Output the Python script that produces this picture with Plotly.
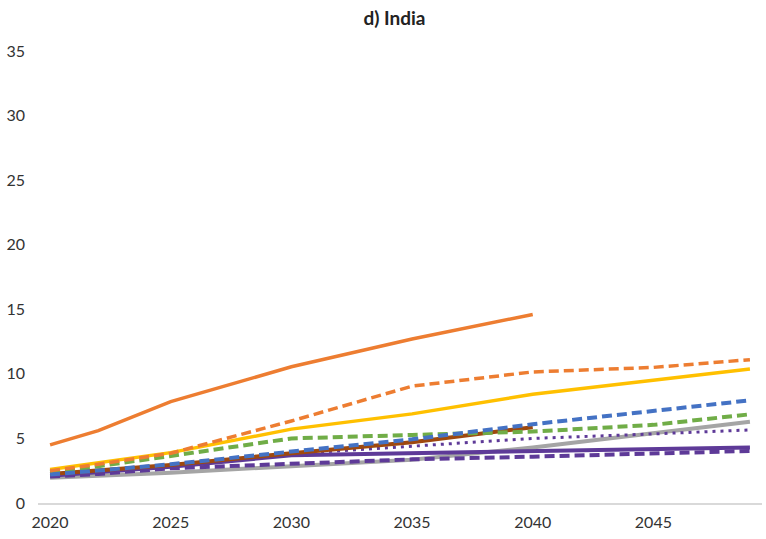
import plotly.graph_objects as go

# Years at which each scenario path is tabulated
years = [2020, 2022, 2025, 2030, 2035, 2040, 2045, 2049]

# Scenario values (same order as years; None = not projected)
orange_solid = [4.5, 5.6, 7.85, 10.55, 12.7, 14.6, None, None]
orange_dash = [2.5, 3.0, 3.85, 6.35, 9.05, 10.15, 10.5, 11.1]
yellow_solid = [2.6, 3.1, 3.9, 5.72, 6.9, 8.42, 9.5, 10.38]
green_dash = [2.4, 2.85, 3.64, 5.0, 5.27, 5.53, 6.05, 6.87]
blue_dash = [2.2, 2.5, 3.0, 3.98, 4.93, 6.1, 7.13, 7.95]
brown_solid = [2.25, 2.5, 2.95, 3.85, 4.7, 5.87, None, None]
purple_dot = [2.15, 2.4, 2.9, 3.8, 4.4, 5.0, 5.35, 5.66]
purple_solid = [2.1, 2.35, 2.8, 3.7, 3.85, 4.03, 4.2, 4.29]
purple_dash = [2.05, 2.25, 2.69, 3.07, 3.38, 3.59, 3.8, 4.03]
gray_solid = [1.95, 2.1, 2.35, 2.85, 3.35, 4.3, 5.4, 6.3]

x_ticks = [2020, 2025, 2030, 2035, 2040, 2045]
y_ticks = [0, 5, 10, 15, 20, 25, 30, 35]

ORANGE = "#ED7D31"
YELLOW = "#FFC000"
GREEN = "#70AD47"
BLUE = "#4472C4"
BROWN = "#9E480E"
PURPLE = "#5E3A98"
GRAY = "#A5A5A5"

series = [
    (gray_solid, GRAY, "solid", 4),
    (purple_dash, PURPLE, "10px,5px", 4),
    (purple_solid, PURPLE, "solid", 4),
    (purple_dot, PURPLE, "3px,5px", 3),
    (brown_solid, BROWN, "solid", 4),
    (green_dash, GREEN, "10px,5px", 4),
    (blue_dash, BLUE, "10px,5px", 4),
    (yellow_solid, YELLOW, "solid", 3.5),
    (orange_dash, ORANGE, "10px,5px", 3.5),
    (orange_solid, ORANGE, "solid", 3.5),
]

fig = go.Figure()
for vals, color, dash, width in series:
    fig.add_trace(go.Scatter(
        x=years, y=vals, mode="lines",
        line=dict(color=color, dash=dash, width=width),
        connectgaps=False, showlegend=False, hoverinfo="skip",
    ))

font_family = "Lato, Open Sans, sans-serif"

fig.update_layout(
    width=766, height=539,
    margin=dict(l=38, r=4, t=51, b=36),
    paper_bgcolor="white", plot_bgcolor="white",
    title=dict(text="<b>d) India</b>", x=0.515, xanchor="center",
               y=0.966, yanchor="middle",
               font=dict(family=font_family, size=19, color="#222222")),
    font=dict(family=font_family, size=16, color="#333333"),
)
fig.update_xaxes(
    range=[2019.5, 2049.5], tickvals=x_ticks, ticktext=[str(t) for t in x_ticks],
    showgrid=False, zeroline=False, showline=True, linecolor="#D9D9D9",
    linewidth=1.5, ticks="", ticklabelstandoff=4,
    tickfont=dict(family=font_family, size=16, color="#333333"),
)
fig.update_yaxes(
    range=[0, 35], tickvals=y_ticks, showgrid=False, zeroline=False,
    showline=False, ticks="", ticklabelstandoff=12,
    tickfont=dict(family=font_family, size=16, color="#333333"),
)

fig.write_html("out.html")
